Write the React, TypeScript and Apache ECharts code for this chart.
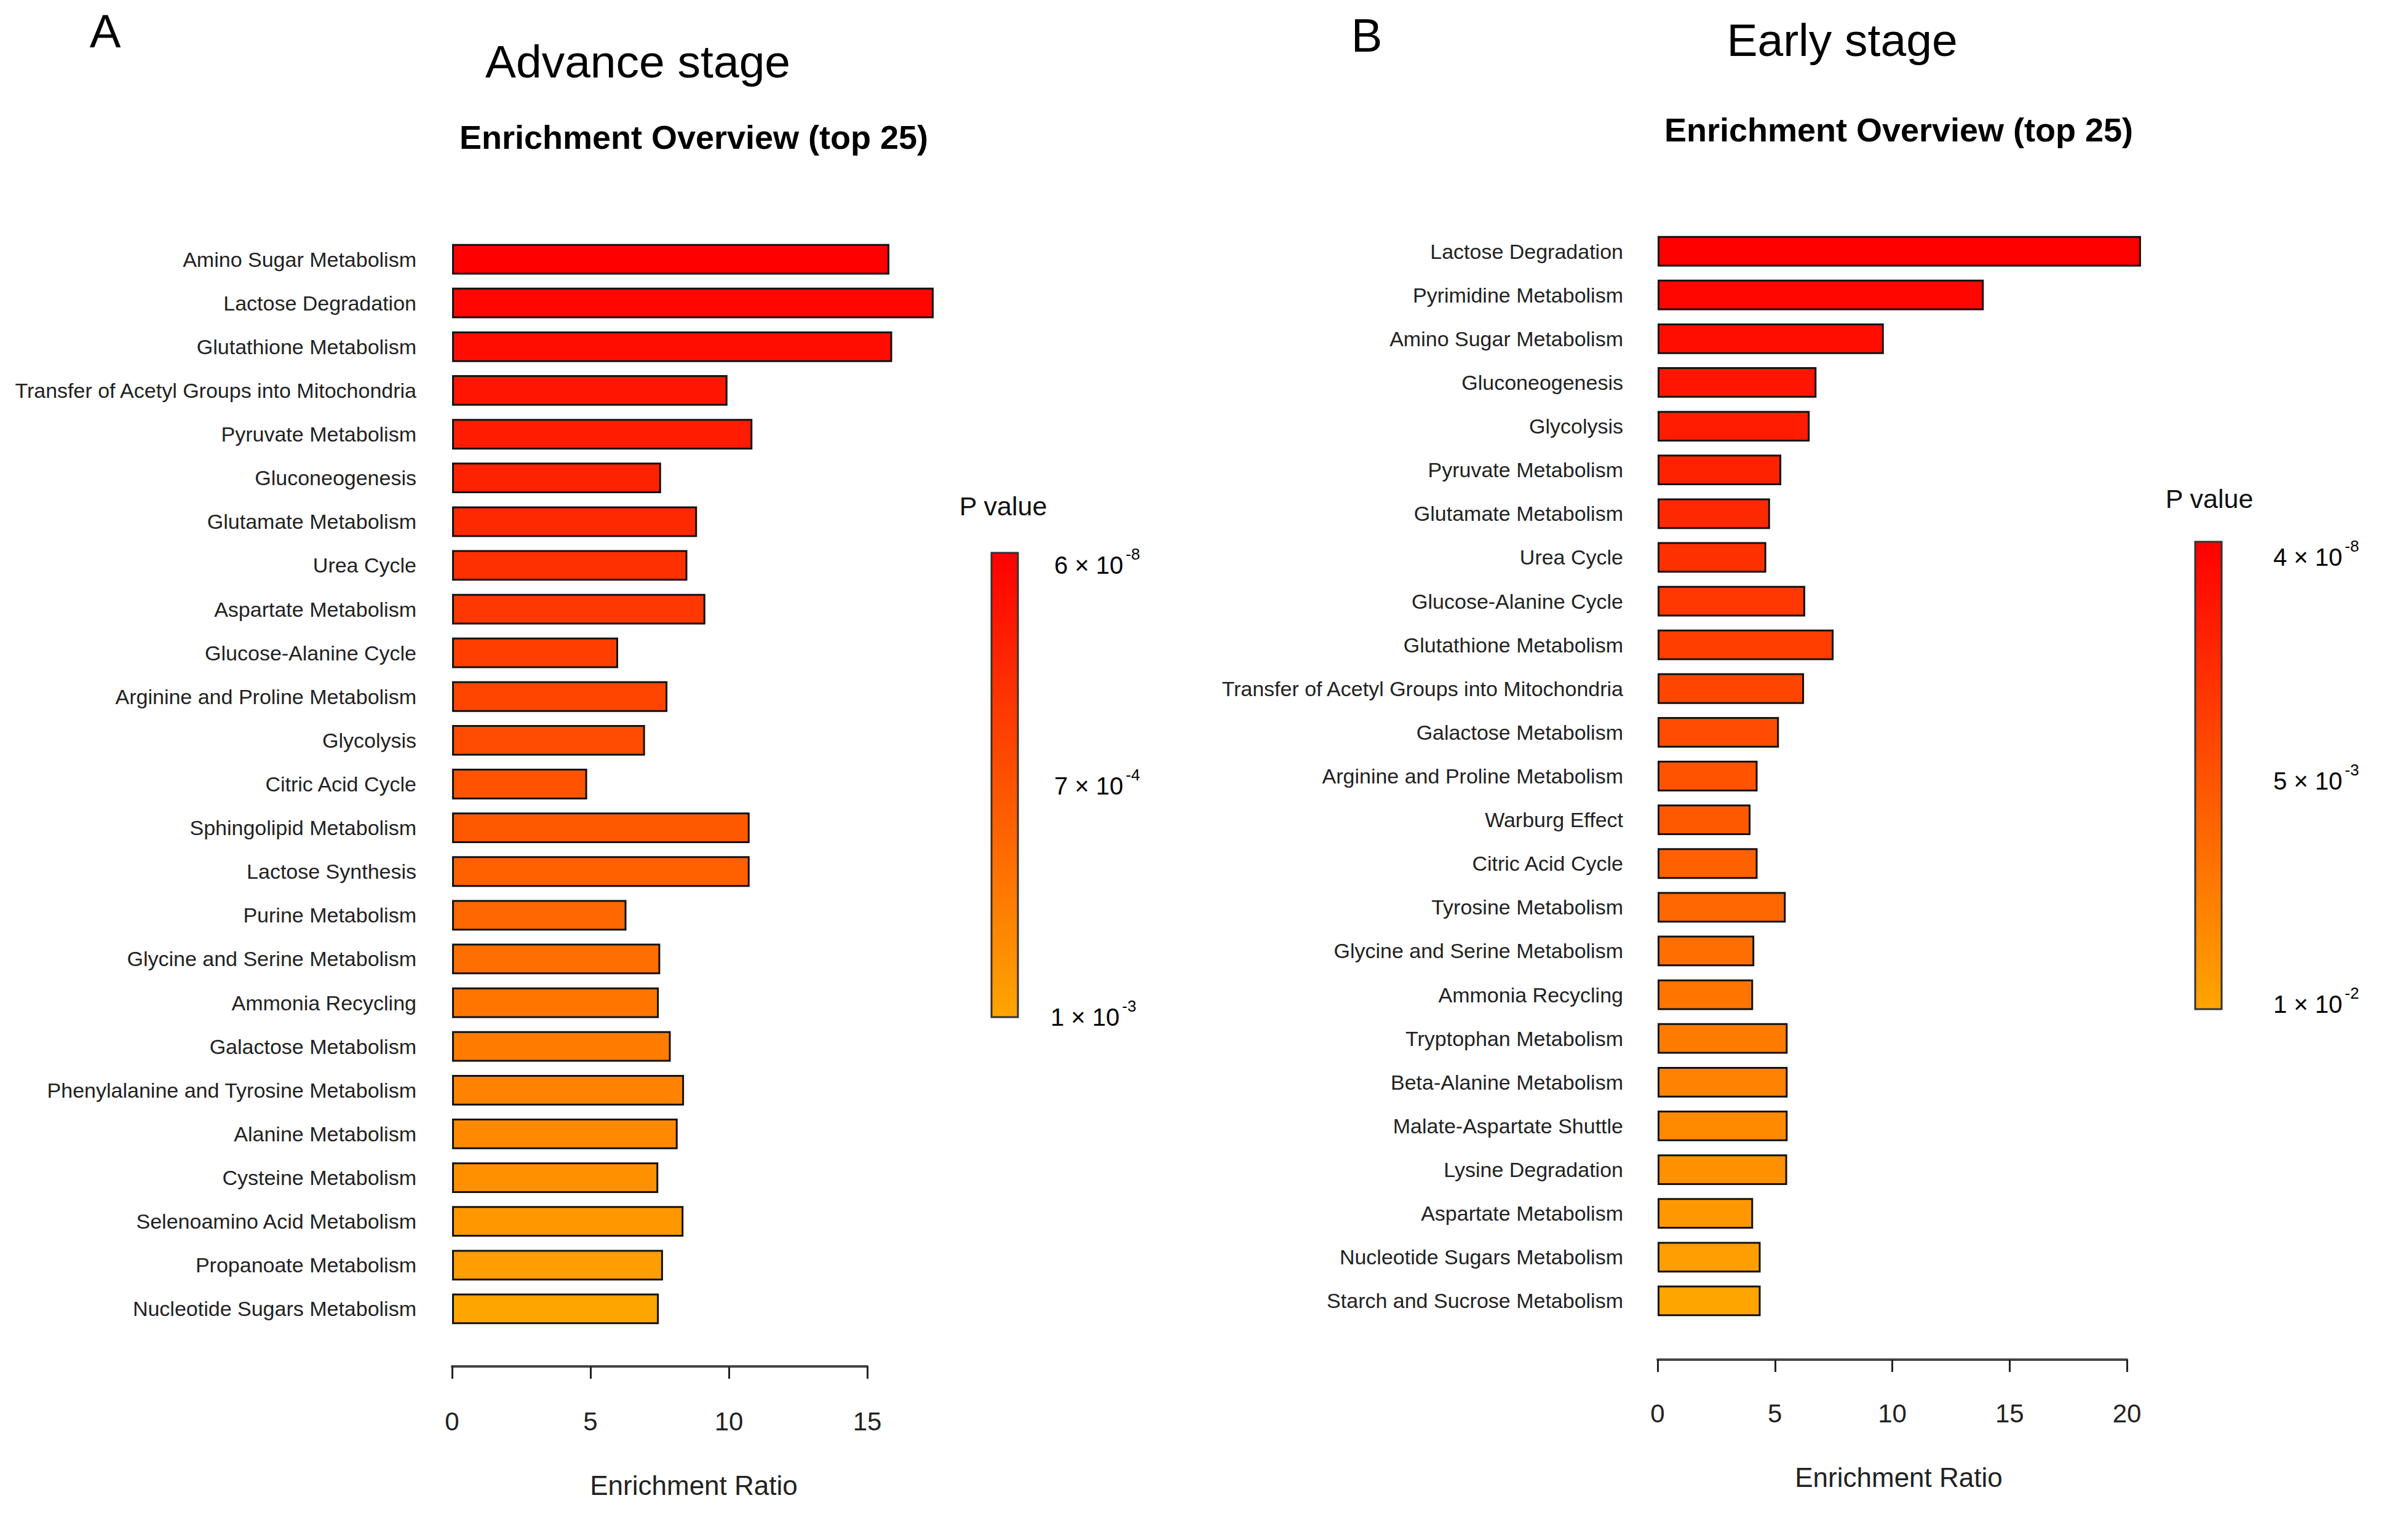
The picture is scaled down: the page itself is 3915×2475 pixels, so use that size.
import React, { useEffect, useRef } from "react";
import * as echarts from "echarts";

const advCategories = [
  "Amino Sugar Metabolism",
  "Lactose Degradation",
  "Glutathione Metabolism",
  "Transfer of Acetyl Groups into Mitochondria",
  "Pyruvate Metabolism",
  "Gluconeogenesis",
  "Glutamate Metabolism",
  "Urea Cycle",
  "Aspartate Metabolism",
  "Glucose-Alanine Cycle",
  "Arginine and Proline Metabolism",
  "Glycolysis",
  "Citric Acid Cycle",
  "Sphingolipid Metabolism",
  "Lactose Synthesis",
  "Purine Metabolism",
  "Glycine and Serine Metabolism",
  "Ammonia Recycling",
  "Galactose Metabolism",
  "Phenylalanine and Tyrosine Metabolism",
  "Alanine Metabolism",
  "Cysteine Metabolism",
  "Selenoamino Acid Metabolism",
  "Propanoate Metabolism",
  "Nucleotide Sugars Metabolism",
];
const advRatios = [
  15.8, 17.4, 15.9, 9.95, 10.85, 7.55, 8.85, 8.5, 9.15, 6.0, 7.78, 6.97, 4.88,
  10.75, 10.75, 6.3, 7.52, 7.47, 7.9, 8.38, 8.15, 7.45, 8.36, 7.62, 7.47,
];

const earlyCategories = [
  "Lactose Degradation",
  "Pyrimidine Metabolism",
  "Amino Sugar Metabolism",
  "Gluconeogenesis",
  "Glycolysis",
  "Pyruvate Metabolism",
  "Glutamate Metabolism",
  "Urea Cycle",
  "Glucose-Alanine Cycle",
  "Glutathione Metabolism",
  "Transfer of Acetyl Groups into Mitochondria",
  "Galactose Metabolism",
  "Arginine and Proline Metabolism",
  "Warburg Effect",
  "Citric Acid Cycle",
  "Tyrosine Metabolism",
  "Glycine and Serine Metabolism",
  "Ammonia Recycling",
  "Tryptophan Metabolism",
  "Beta-Alanine Metabolism",
  "Malate-Aspartate Shuttle",
  "Lysine Degradation",
  "Aspartate Metabolism",
  "Nucleotide Sugars Metabolism",
  "Starch and Sucrose Metabolism",
];
const earlyRatios = [
  20.6, 13.9, 9.64, 6.77, 6.48, 5.27, 4.79, 4.63, 6.29, 7.5, 6.24, 5.17, 4.26,
  3.96, 4.26, 5.46, 4.12, 4.07, 5.54, 5.54, 5.54, 5.52, 4.07, 4.39, 4.39,
];

const advAxisMax = 15;
const earlyAxisMax = 20;
const advPLegend = [
  { m: "6", e: "-8" },
  { m: "7", e: "-4" },
  { m: "1", e: "-3" },
];
const earlyPLegend = [
  { m: "4", e: "-8" },
  { m: "5", e: "-3" },
  { m: "1", e: "-2" },
];

const FONT = "Liberation Sans, Arial, Helvetica, sans-serif";
const C_LOW = [255, 0, 0];
const C_HIGH = [255, 165, 0];

function rankColor(i: number, n: number) {
  const t = n > 1 ? i / (n - 1) : 0;
  const c = C_LOW.map((v, k) => Math.round(v + (C_HIGH[k] - v) * t));
  return `rgb(${c[0]},${c[1]},${c[2]})`;
}

function txt(text: string, x: number, y: number, size: number, opts: any = {}) {
  return {
    type: "text",
    x,
    y,
    silent: true,
    style: {
      text,
      fontSize: size,
      fontFamily: FONT,
      fontWeight: opts.weight || "normal",
      fill: opts.fill || "#000",
      align: opts.align || "center",
      textAlign: opts.align || "center",
      verticalAlign: "middle",
      textVerticalAlign: "middle",
    },
  };
}

function legendLabel(m: string, e: string, x: number, y: number) {
  return {
    type: "text",
    x,
    y,
    silent: true,
    style: {
      text: `{n|${m} × 10}{s|${e}}`,
      align: "left",
      textAlign: "left",
      verticalAlign: "middle",
      textVerticalAlign: "middle",
      fill: "#000",
      rich: {
        n: { fontSize: 40, fontFamily: FONT, lineHeight: 62, fill: "#000" },
        s: {
          fontSize: 26,
          fontFamily: FONT,
          lineHeight: 24,
          verticalAlign: "top",
          fill: "#000",
          padding: [0, 0, 0, 4],
        },
      },
    },
  };
}

function colorBar(x: number, y: number, w: number, h: number) {
  return {
    type: "rect",
    silent: true,
    shape: { x, y, width: w, height: h },
    style: {
      fill: new echarts.graphic.LinearGradient(0, 0, 0, 1, [
        { offset: 0, color: "#FF0000" },
        { offset: 1, color: "#FFA500" },
      ]),
      stroke: "#333",
      lineWidth: 3,
    },
  };
}

function xAxisCfg(gridIndex: number, max: number, labelMargin: number, offset: number) {
  return {
    type: "value",
    gridIndex,
    min: 0,
    max,
    interval: 5,
    offset,
    axisLine: { show: true, lineStyle: { color: "#444", width: 4 } },
    axisTick: { show: true, length: 20, lineStyle: { color: "#222", width: 3 } },
    axisLabel: {
      margin: labelMargin,
      fontSize: 42,
      fontFamily: FONT,
      color: "#222",
    },
    splitLine: { show: false },
  };
}

function yAxisCfg(gridIndex: number, data: string[], margin: number) {
  return {
    type: "category",
    gridIndex,
    data,
    inverse: true,
    axisLine: { show: false },
    axisTick: { show: false },
    axisLabel: {
      margin,
      fontSize: 34,
      fontFamily: FONT,
      color: "#222",
      align: "right",
    },
    splitLine: { show: false },
  };
}

function barSeries(idx: number, data: number[]) {
  return {
    type: "bar",
    xAxisIndex: idx,
    yAxisIndex: idx,
    data,
    barWidth: "70%",
    clip: false,
    itemStyle: {
      color: (p: any) => rankColor(p.dataIndex, data.length),
      borderColor: "#111",
      borderWidth: 3,
    },
  };
}

export default function App() {
  const ref = useRef<HTMLDivElement>(null);

  useEffect(() => {
    if (!ref.current) return;
    const chart = echarts.init(ref.current, null, { renderer: "svg" });
    const option: any = {
      animation: false,
      backgroundColor: "#fff",
      grid: [
        { left: 735, top: 386, width: 675, height: 1778, outerBoundsMode: "none" },
        { left: 2695, top: 373, width: 763, height: 1778, outerBoundsMode: "none" },
      ],
      xAxis: [xAxisCfg(0, advAxisMax, 68, 58), xAxisCfg(1, earlyAxisMax, 66, 60)],
      yAxis: [yAxisCfg(0, advCategories, 58), yAxisCfg(1, earlyCategories, 56)],
      series: [barSeries(0, advRatios), barSeries(1, earlyRatios)],
      graphic: [
        txt("A", 171, 50, 76),
        txt("Advance stage", 1037, 100, 75),
        txt("Enrichment Overview (top 25)", 1128, 223, 54, { weight: "bold" }),
        txt("Enrichment Ratio", 1128, 2415, 44, { fill: "#222" }),
        txt("B", 2222, 57, 76),
        txt("Early stage", 2995, 65, 75),
        txt("Enrichment Overview (top 25)", 3087, 211, 54, { weight: "bold" }),
        txt("Enrichment Ratio", 3087, 2402, 44, { fill: "#222" }),
        txt("P value", 1631, 823, 43, { fill: "#111" }),
        colorBar(1612, 899, 43, 755),
        legendLabel(advPLegend[0].m, advPLegend[0].e, 1714, 919),
        legendLabel(advPLegend[1].m, advPLegend[1].e, 1714, 1278),
        legendLabel(advPLegend[2].m, advPLegend[2].e, 1708, 1654),
        txt("P value", 3592, 811, 43, { fill: "#111" }),
        colorBar(3569, 881, 43, 760),
        legendLabel(earlyPLegend[0].m, earlyPLegend[0].e, 3696, 906),
        legendLabel(earlyPLegend[1].m, earlyPLegend[1].e, 3696, 1270),
        legendLabel(earlyPLegend[2].m, earlyPLegend[2].e, 3696, 1633),
      ],
    };
    chart.setOption(option);
    return () => chart.dispose();
  }, []);

  return (
    <div
      ref={ref}
      style={{ position: "fixed", left: 0, top: 0, width: 3915, height: 2475, background: "#fff" }}
    />
  );
}
